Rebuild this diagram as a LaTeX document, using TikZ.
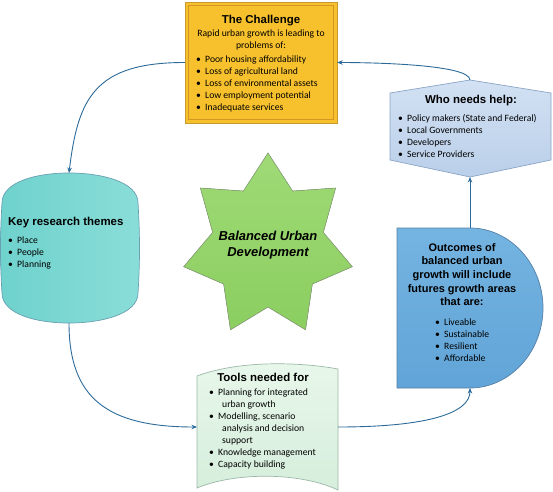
\documentclass[tikz,border=0pt]{standalone}
\usepackage{fontspec}
\setmainfont{Carlito}
\newfontfamily\headfont{Liberation Sans}
\usetikzlibrary{arrows.meta}

\definecolor{flowblue}{HTML}{2C6A9A}
\definecolor{chalfill}{HTML}{F7C12E}
\definecolor{challine}{HTML}{C99A2E}
\definecolor{helptop}{HTML}{D2E1F3}
\definecolor{helpbot}{HTML}{BACFE9}
\definecolor{helpline}{HTML}{8AA5C6}
\definecolor{keyleft}{HTML}{6FD2CD}
\definecolor{keyright}{HTML}{8ADDD8}
\definecolor{keyline}{HTML}{6A9FB2}
\definecolor{outtop}{HTML}{74B4E1}
\definecolor{outbot}{HTML}{61A4D7}
\definecolor{outline}{HTML}{557FA6}
\definecolor{tooltop}{HTML}{E8F7EB}
\definecolor{toolbot}{HTML}{D6EEDC}
\definecolor{toolline}{HTML}{9DB8A8}
\definecolor{startop}{HTML}{9FDA76}
\definecolor{starbot}{HTML}{8BCE60}
\definecolor{starline}{HTML}{8AA37A}

\tikzset{
  flow/.style={draw=flowblue, line width=0.9bp, -{Stealth[length=5.5bp,width=4.5bp]}},
  head/.style={font=\headfont\bfseries\fontsize{11.5}{13.7}\selectfont, inner sep=0pt},
  body/.style={font=\fontsize{9.7}{12}\selectfont, inner sep=0pt, align=left, anchor=north west},
  chalbox/.style={draw=challine, fill=chalfill, minimum width=152bp, minimum height=121bp, inner sep=0pt},
}
\newcommand{\bul}{\makebox[9bp][l]{\textbullet}}

\begin{document}
\begin{tikzpicture}[x=1bp, y=-1bp]
    \useasboundingbox (0,0) rectangle (553,492);

    % The Challenge
    \node[chalbox] (chal) at (261,62.5) {};
    \draw[draw=challine!80!orange, line width=0.7bp] ([shift={(4,4)}]chal.north west) rectangle ([shift={(-4,-4)}]chal.south east);
    \node[head, anchor=base] (chal-title) at (261,24) {The Challenge};
    \node[body, align=center, anchor=north] (chal-text) at (261,30) {Rapid urban growth is leading to\\problems of:};
    \node[body] (chal-list) at (196,56) {\bul Poor housing affordability\\\bul Loss of agricultural land\\\bul Loss of environmental assets\\\bul Low employment potential\\\bul Inadequate services};

    % Who needs help
    \draw[draw=helpline, top color=helptop, bottom color=helpbot, line width=0.7bp]
        (390,93) -- (470,80) -- (551,93) -- (551,160) -- (470,177) -- (390,160) -- cycle;
    \coordinate (help-n) at (470,80);
    \coordinate (help-s) at (470,177);
    \node[head, anchor=base] (help-title) at (471,104) {Who needs help:};
    \node[body] (help-list) at (398,114) {\bul Policy makers (State and Federal)\\\bul Local Governments\\\bul Developers\\\bul Service Providers};

    % Key research themes
    \draw[draw=keyline, left color=keyleft, right color=keyright, line width=0.7bp]
        (2,203) .. controls (2,182) and (36,173) .. (69,173) .. controls (102,173) and (138,182) .. (138,203)
        .. controls (140,235) and (140,262) .. (138,293) .. controls (138,314) and (102,323) .. (69,323)
        .. controls (36,323) and (2,314) .. (2,293) .. controls (0,262) and (0,235) .. (2,203) -- cycle;
    \coordinate (key-n) at (69,173);
    \coordinate (key-s) at (69,323);
    \node[head, anchor=base west] (key-title) at (8,225) {Key research themes};
    \node[body] (key-list) at (8,237) {\bul Place\\\bul People\\\bul Planning};

    % Balanced Urban Development
    \begin{scope}[shift={(268,246)}, xscale=0.93]
        \filldraw[draw=starline, top color=startop, bottom color=starbot, line width=0.6bp]
            (-90:93) \foreach \i in {1,...,13} { -- ({-90+\i*180/7}:{ifthenelse(isodd(\i),61,93)}) } -- cycle;
    \end{scope}
    \node[font=\headfont\bfseries\itshape\fontsize{13}{16}\selectfont, align=center] (bud) at (268,245) {Balanced Urban\\Development};

    % Outcomes
    \draw[draw=outline, top color=outtop, bottom color=outbot, line width=0.7bp]
        (397,228) -- (470,228) .. controls (510,228) and (543,264) .. (543,308)
        .. controls (543,352) and (510,388) .. (470,388) -- (397,388) -- cycle;
    \coordinate (out-n) at (470,228);
    \coordinate (out-s) at (470,388);
    \node[head, font=\headfont\bfseries\fontsize{11}{13.7}\selectfont, align=center, anchor=north] (out-title) at (462,243) {Outcomes of\\balanced urban\\growth will include\\futures growth areas\\that are:};
    \node[body] (out-list) at (435,319) {\bul Liveable\\\bul Sustainable\\\bul Resilient\\\bul Affordable};

    % Tools needed for
    \draw[draw=toolline, top color=tooltop, bottom color=toolbot, line width=0.7bp]
        (197,376) .. controls (240,360) and (300,362) .. (338,369) -- (338,490)
        .. controls (300,472) and (235,472) .. (197,488) -- cycle;
    \coordinate (tools-w) at (197,427);
    \coordinate (tools-e) at (338,427);
    \node[head, anchor=base] (tools-title) at (263,381) {Tools needed for};
    \node[body] (tools-list) at (209,389) {\bul Planning for integrated\\\hspace*{13bp}urban growth\\\bul Modelling, scenario\\\hspace*{13bp}analysis and decision\\\hspace*{13bp}support\\\bul Knowledge management\\\bul Capacity building};

    % Fleches
    \draw[flow] (help-n) .. controls +(0,-16) and +(30,0) .. (chal.east);
    \draw[flow] (chal.west) .. controls +(-90,0) and +(9,-75) .. (key-n);
    \draw[flow] (key-s) .. controls +(0,75) and +(-90,0) .. (tools-w);
    \draw[flow] (tools-e) .. controls +(90,0) and +(0,25) .. (out-s);
    \draw[flow] (out-n) -- (help-s);
\end{tikzpicture}
\end{document}
